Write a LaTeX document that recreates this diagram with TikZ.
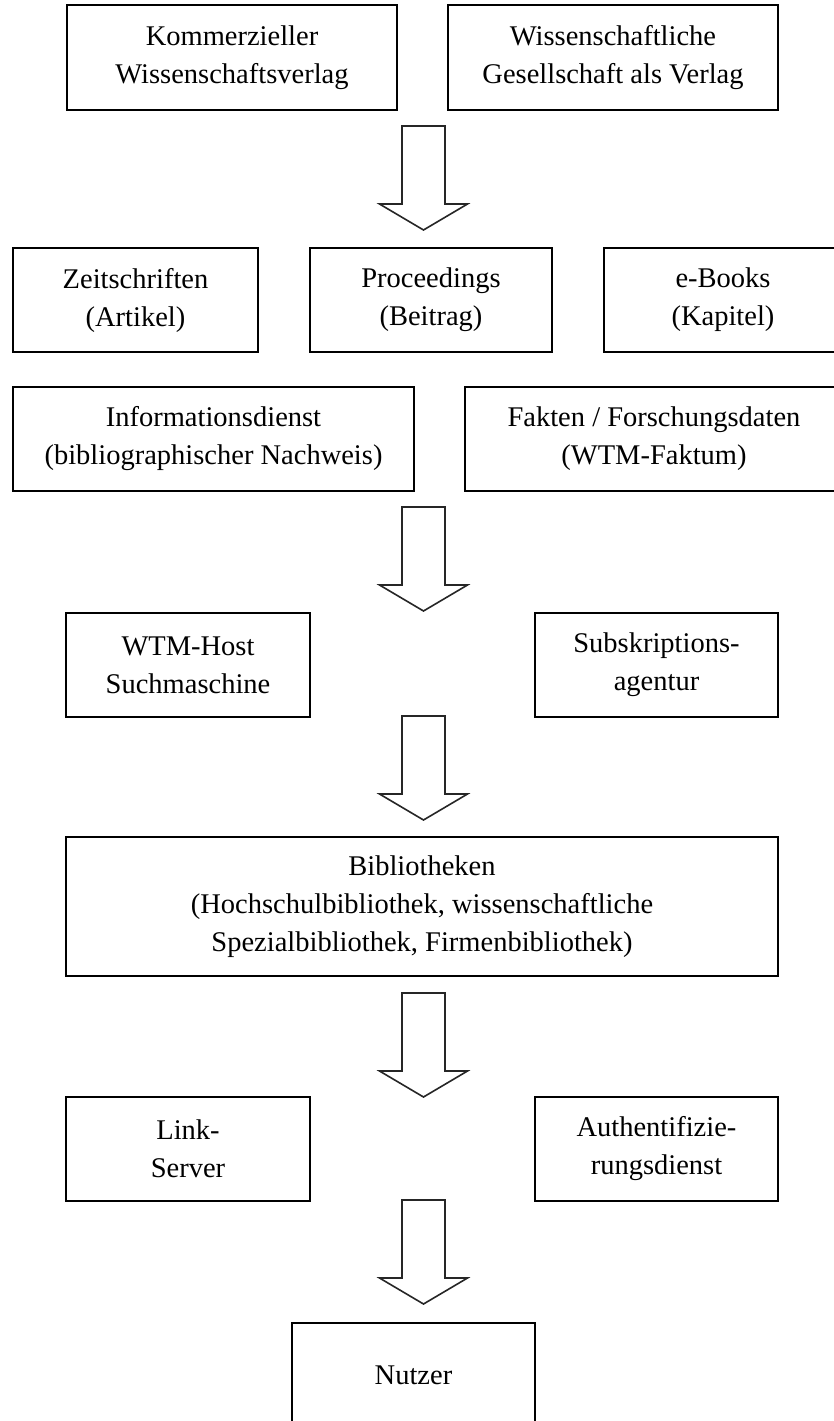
\documentclass[tikz,border=0pt]{standalone}
\usepackage{fontspec}
\setmainfont[Ligatures=NoCommon]{Liberation Serif}
\begin{document}
\begin{tikzpicture}[x=1pt,y=-1pt,
  box/.style={draw=black, line width=2pt, inner sep=0pt, outer sep=0pt,
    align=center, anchor=north west, font=\fontsize{28.5}{38}\selectfont},
  arrowline/.style={draw=black!85, line width=1.6pt, line join=miter, fill=white},
  downarrow/.pic={
    \path[arrowline] (-21.5,0) -- (21.5,0) -- (21.5,78) -- (44,78) -- (0,104)
      -- (-44,78) -- (-21.5,78) -- cycle;
  }
]
\useasboundingbox (0,0) rectangle (833,1421);

% publishers
\node[box, minimum width=330pt, minimum height=105pt] (kv) at (67,5)
  {Kommerzieller\\Wissenschaftsverlag};
\node[box, minimum width=330pt, minimum height=105pt] (wg) at (448,5)
  {Wissenschaftliche\\Gesellschaft als Verlag};

\pic at (423.5,126) {downarrow};

% products
\node[box, minimum width=245pt, minimum height=104pt] (zs) at (13,248)
  {Zeitschriften\\(Artikel)};
\node[box, minimum width=242pt, minimum height=104pt] (pr) at (310,248)
  {Proceedings\\(Beitrag)};
\node[box, minimum width=238pt, minimum height=104pt] (eb) at (604,248)
  {e-Books\\(Kapitel)};
\node[box, minimum width=401pt, minimum height=104pt] (id) at (13,387)
  {Informationsdienst\\(bibliographischer Nachweis)};
\node[box, minimum width=378pt, minimum height=104pt] (fk) at (465,387)
  {Fakten / Forschungsdaten\\(WTM-Faktum)};

\pic at (423.5,507) {downarrow};

% intermediaries
\node[box, minimum width=244pt, minimum height=104pt] (wh) at (66,613)
  {WTM-Host\\Suchmaschine};
\node[box, minimum width=243pt, minimum height=104pt] (sa) at (535,613)
  {Subskriptions-\\agentur};

\pic at (423.5,716) {downarrow};

% libraries
\node[box, minimum width=712pt, minimum height=139pt] (bib) at (66,837)
  {Bibliotheken\\(Hochschulbibliothek, wissenschaftliche\\Spezialbibliothek, Firmenbibliothek)};

\pic at (423.5,993) {downarrow};

% access services
\node[box, minimum width=244pt, minimum height=104pt] (ls) at (66,1097)
  {Link-\\Server};
\node[box, minimum width=243pt, minimum height=104pt] (au) at (535,1097)
  {Authentifizie-\\rungsdienst};

\pic at (423.5,1200) {downarrow};

% end users
\node[box, minimum width=243pt, minimum height=104pt] (nu) at (292,1323)
  {Nutzer};
\end{tikzpicture}
\end{document}
